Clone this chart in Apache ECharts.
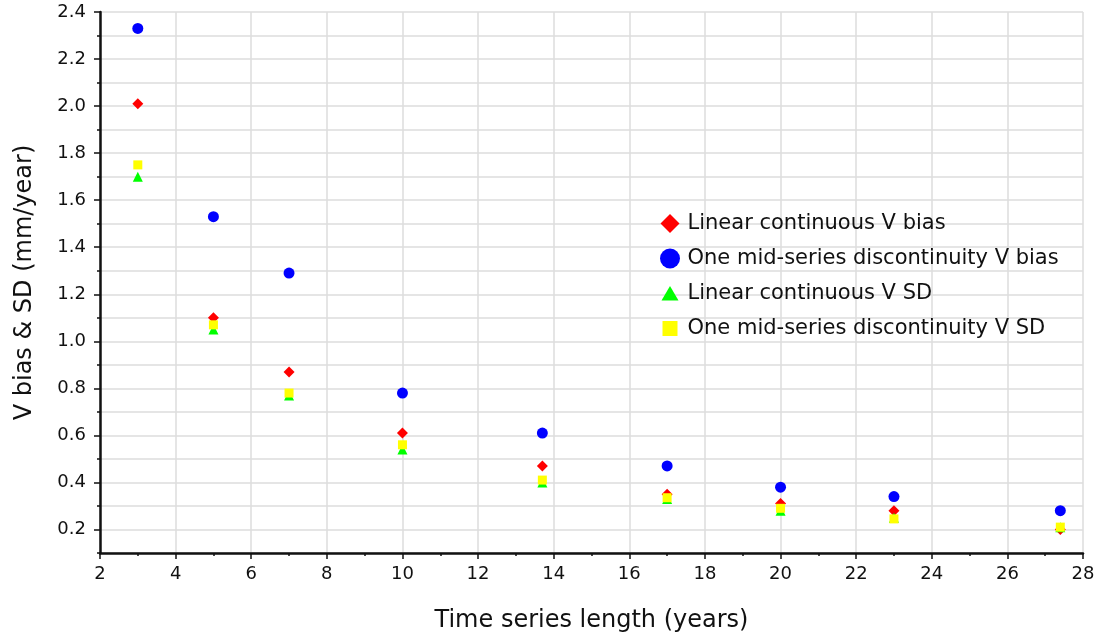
<!DOCTYPE html>
<html>
<head>
<meta charset="utf-8">
<script src="https://cdn.jsdelivr.net/npm/echarts@6/dist/echarts.min.js"></script>
<style>html,body{margin:0;padding:0;background:#fff;}#c{width:1098px;height:638px;}</style>
</head>
<body>
<div id="c"></div>
<script>
const xValues = [3, 5, 7, 10, 13.7, 17, 20, 23, 27.4];
const linearBias = [2.01, 1.10, 0.87, 0.61, 0.47, 0.35, 0.31, 0.28, 0.20];
const discBias = [2.33, 1.53, 1.29, 0.78, 0.61, 0.47, 0.38, 0.34, 0.28];
const linearSD = [1.70, 1.05, 0.77, 0.54, 0.40, 0.33, 0.28, 0.25, 0.21];
const discSD = [1.75, 1.07, 0.78, 0.56, 0.41, 0.335, 0.29, 0.245, 0.21];
const yTickLabels = [0.2, 0.4, 0.6, 0.8, 1.0, 1.2, 1.4, 1.6, 1.8, 2.0, 2.2, 2.4];
const seriesNames = ['Linear continuous V bias', 'One mid-series discontinuity V bias', 'Linear continuous V SD', 'One mid-series discontinuity V SD'];

const font = 'DejaVu Sans, Verdana, sans-serif';
const pairs = arr => xValues.map((x, i) => [x, arr[i]]);

const chart = echarts.init(document.getElementById('c'), null, {renderer: 'canvas'});
chart.setOption({
  animation: false,
  backgroundColor: '#fff',
  grid: {left: 100, right: 15, top: 12, bottom: 85, containLabel: false},
  legend: {
    orient: 'vertical', left: 655, top: 208, itemGap: 14, itemWidth: 25, itemHeight: 20,
    symbolKeepAspect: true,
    textStyle: {fontFamily: font, fontSize: 21, color: '#111'},
    data: [
      {name: seriesNames[0], icon: 'path://M0,0M20,20M10,0.5L19.5,10L10,19.5L0.5,10Z'},
      {name: seriesNames[1], icon: 'circle'},
      {name: seriesNames[2], icon: 'path://M0,0M20,20M1.5,17L18.5,17L10,2.5Z'},
      {name: seriesNames[3], icon: 'path://M0,0M20,20M2.5,2.5L17.5,2.5L17.5,17.5L2.5,17.5Z'}
    ]
  },
  xAxis: {
    type: 'value', min: 2, max: 28, interval: 2,
    name: 'Time series length (years)', nameLocation: 'middle', nameGap: 56,
    nameTextStyle: {fontFamily: font, fontSize: 24, color: '#111'},
    axisLine: {show: true, lineStyle: {color: '#111', width: 2.5}},
    axisTick: {show: true, inside: false, length: 6, lineStyle: {color: '#111', width: 1.5}},
    minorTick: {show: true, splitNumber: 2, length: 3, lineStyle: {color: '#111', width: 1.5}},
    axisLabel: {fontFamily: font, fontSize: 18, color: '#111', margin: 12},
    splitLine: {show: true, lineStyle: {color: '#dcdcdc', width: 1.5}}
  },
  yAxis: [{
    type: 'value', min: 0.1, max: 2.4, interval: 0.1,
    axisLine: {show: true, lineStyle: {color: '#111', width: 2.5}},
    axisTick: {show: true, length: 3, lineStyle: {color: '#111', width: 1.5}},
    axisLabel: {show: false},
    splitLine: {show: true, lineStyle: {color: '#dcdcdc', width: 1.5}}
  }, {
    type: 'value', min: 0.1, max: 2.4, position: 'left',
    name: 'V bias & SD (mm/year)', nameLocation: 'middle', nameGap: 63,
    nameTextStyle: {fontFamily: font, fontSize: 24, color: '#111'},
    axisLine: {show: false},
    axisTick: {show: true, length: 6, customValues: yTickLabels, lineStyle: {color: '#111', width: 1.5}},
    axisLabel: {fontFamily: font, fontSize: 18, color: '#111', margin: 14, customValues: yTickLabels,
      formatter: v => Number(v).toFixed(1)},
    splitLine: {show: false}
  }],
  series: [
    {name: seriesNames[0], type: 'scatter', symbol: 'diamond', symbolSize: 11, itemStyle: {color: '#ff0000', opacity: 1}, data: pairs(linearBias), z: 2},
    {name: seriesNames[1], type: 'scatter', symbol: 'circle', symbolSize: 11, itemStyle: {color: '#0000ff', opacity: 1}, data: pairs(discBias), z: 2},
    {name: seriesNames[2], type: 'scatter', symbol: 'triangle', symbolSize: 10, itemStyle: {color: '#00ff00', opacity: 1}, data: pairs(linearSD), z: 3},
    {name: seriesNames[3], type: 'scatter', symbol: 'rect', symbolSize: 9, itemStyle: {color: '#ffff00', opacity: 1}, data: pairs(discSD), z: 4}
  ]
});
</script>
</body>
</html>
